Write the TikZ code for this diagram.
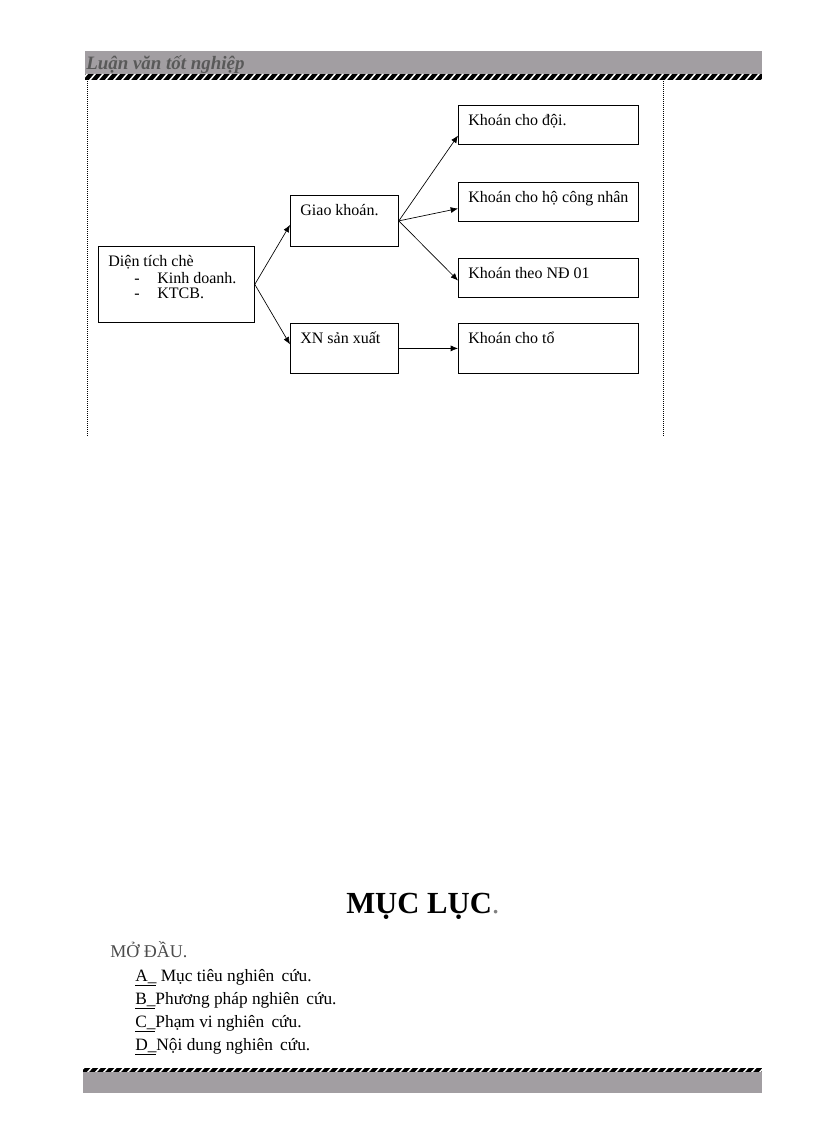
\documentclass[tikz,border=0pt]{standalone}
\usepackage{fontspec}
\setmainfont{Liberation Serif}
\usetikzlibrary{arrows.meta,calc}
\definecolor{band}{RGB}{162,158,162}
\newcommand\bxt[3]{\parbox[t][#2][t]{#1}{\raggedright\leftskip=7.5pt\relax\vspace*{6.4pt}\strut #3}}
\tikzset{
  box/.style={draw, line width=0.6pt, anchor=north west, inner sep=0pt, font=\fontsize{12}{11.6}\selectfont},
  arr/.style={line width=0.5pt, -{Latex[length=5.5pt,width=4.5pt]}},
  dotline/.style={line width=0.6pt, dash pattern=on 0.75pt off 0.75pt},
  itm/.style={anchor=base west, inner sep=0pt, font=\fontsize{13}{15}\selectfont}
}
\begin{document}
\begin{tikzpicture}[x=0.75pt,y=-0.75pt]
\useasboundingbox (0,0) rectangle (816,1123);
% header band
\fill[band] (85,51) rectangle (762,74);
\fill[black] (85,74) rectangle (762,80);
\begin{scope}
\clip (85,74) rectangle (762,80);
\foreach \x in {81,89,...,765} {
  \fill[white] (\x,80) -- (\x+2,80) -- (\x+7,74) -- (\x+5,74) -- cycle;
}
\end{scope}
\node[anchor=base west, inner sep=0pt, text=black!65, font=\fontsize{14.2}{14}\selectfont\bfseries\itshape] (hdr) at (86,70) {Luận văn tốt nghiệp};
% footer band
\fill[black] (83,1068) rectangle (762,1072);
\begin{scope}
\clip (83,1068) rectangle (762,1072);
\foreach \x in {79,87,...,765} {
  \fill[white] (\x,1072) -- (\x+2,1072) -- (\x+5.5,1068) -- (\x+3.5,1068) -- cycle;
}
\end{scope}
\fill[band] (83,1072) rectangle (762,1093);
% dotted side lines
\coordinate (l1) at (87,81); \coordinate (l2) at (87,436);
\coordinate (r1) at (663,81); \coordinate (r2) at (663,436);
\draw[dotline] (l1) -- (l2);
\draw[dotline] (r1) -- (r2);
% boxes
\node[box] (d) at (98,246) {\bxt{117pt}{57pt}{Diện tích chè\\\hspace*{19.5pt}\makebox[17.25pt][l]{-}Kinh doanh.\\\hspace*{19.5pt}\makebox[17.25pt][l]{-}KTCB.}};
\node[box] (g) at (290,195) {\bxt{81pt}{38.25pt}{Giao khoán.}};
\node[box] (x) at (290,323) {\bxt{81pt}{37.5pt}{XN sản xuất}};
\node[box] (k1) at (458,105) {\bxt{135pt}{29.25pt}{Khoán cho đội.}};
\node[box] (k2) at (458,182) {\bxt{135pt}{29.25pt}{Khoán cho hộ công nhân}};
\node[box] (k3) at (458,258) {\bxt{135pt}{29.25pt}{Khoán theo NĐ 01}};
\node[box] (k4) at (458,323) {\bxt{135pt}{37.5pt}{Khoán cho tổ}};
% connectors
\draw[arr] (d.east) -- ([yshift=-3pt]g.west);
\draw[arr] (d.east) -- ([yshift=3pt]x.west);
\draw[arr] (g.east) -- ([yshift=-8pt]k1.west);
\draw[arr] (g.east) -- ([yshift=-5pt]k2.west);
\draw[arr] (g.east) -- ([yshift=-2pt]k3.west);
\draw[arr] (x.east) -- (k4.west);
% contents
\node[anchor=base west, inner sep=0pt, font=\fontsize{23}{23}\selectfont\bfseries] (ml) at (346,913) {MỤC LỤC\textcolor{black!50}{\mdseries.}};
\node[anchor=base west, inner sep=0pt, text=black!70, font=\fontsize{13.5}{15}\selectfont] (md) at (110,957) {MỞ ĐẦU.};
\node[itm] (a) at (135,981) {\underline{A\_} Mục tiêu nghiên \,cứu.};
\node[itm] (b) at (135,1004) {\underline{B\_}Phương pháp nghiên \,cứu.};
\node[itm] (c) at (135,1027) {\underline{C\_}Phạm vi nghiên \,cứu.};
\node[itm] (dd) at (135,1050) {\underline{D\_}Nội dung nghiên \,cứu.};
\end{tikzpicture}
\end{document}
